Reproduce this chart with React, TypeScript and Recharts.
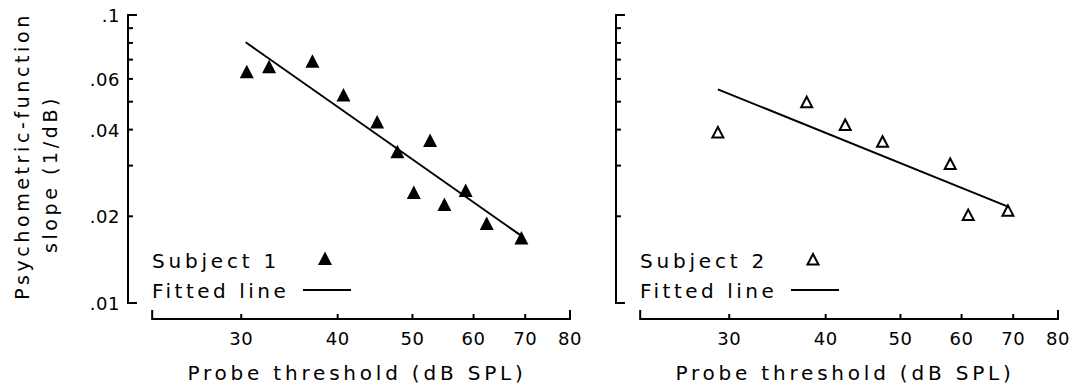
import React from 'react';
import { ScatterChart, Scatter, XAxis, YAxis, ReferenceLine, Legend } from 'recharts';

const FONT = '"DejaVu Sans", sans-serif';

// axis ranges (log scales); the plot area reaches a bit past the drawn axes
const X_MIN = 21.4;
const X_START = 23;
const X_MAX = 80;
const Y_MIN = 0.0088;
const Y_START = 0.01;
const Y_MAX = 0.1;

const xTicks = [23, 30, 40, 50, 60, 70, 80];
const xTickLabels = ['', '30', '40', '50', '60', '70', '80'];
const yTicks = [0.01, 0.02, 0.03, 0.04, 0.05, 0.06, 0.07, 0.08, 0.09, 0.1];
const yTickLabels = ['.01', '.02', '', '.04', '', '.06', '', '', '', '.1'];

// Subject 1
const s1X = [30.5, 32.6, 37.1, 40.7, 45.0, 47.8, 52.7, 50.2, 55.0, 58.6, 62.4, 69.2];
const s1Y = [0.0635, 0.0661, 0.0691, 0.0528, 0.0425, 0.0335, 0.0367, 0.0242, 0.022, 0.0246, 0.0189, 0.0168];
const fit1X = [30.4, 69.0];
const fit1Y = [0.0804, 0.0172];

// Subject 2
const s2X = [29.0, 37.8, 42.4, 47.4, 58.0, 61.2, 68.9];
const s2Y = [0.0391, 0.0498, 0.0415, 0.0363, 0.0304, 0.0202, 0.0209];
const fit2X = [29.0, 68.9];
const fit2Y = [0.0552, 0.0216];

const toPts = (xs: number[], ys: number[]) => xs.map((x, i) => ({ x, y: ys[i] }));

const textStyle = { fontFamily: FONT, fill: '#000' };

const FilledTri = ({ cx, cy }: any) => (
  <polygon points={`${cx},${cy - 7} ${cx - 7},${cy + 6.5} ${cx + 7},${cy + 6.5}`} fill="#000" />
);

const HollowTri = ({ cx, cy }: any) => (
  <polygon
    points={`${cx},${cy - 5.5} ${cx - 5.5},${cy + 5} ${cx + 5.5},${cy + 5}`}
    fill="none"
    stroke="#000"
    strokeWidth={2}
  />
);

const XTick = (props: any) => {
  const { x, y, payload } = props;
  const i = xTicks.indexOf(payload.value);
  const cap = i === 0 || i === xTicks.length - 1;
  return (
    <g>
      <line x1={x} x2={x} y1={y + 1} y2={y - (cap ? 9 : 5)} stroke="#000" strokeWidth={2} />
      <text x={x} y={y + 26} textAnchor="middle" fontSize={18} letterSpacing={0.5} style={textStyle}>
        {xTickLabels[i]}
      </text>
    </g>
  );
};

const makeYTick = (showLabels: boolean) => (props: any) => {
  const { x, y, payload } = props;
  const i = yTicks.indexOf(payload.value);
  const cap = i === 0 || i === yTicks.length - 1;
  return (
    <g>
      <line x1={x - 1} x2={x + (cap ? 9 : 5)} y1={y} y2={y} stroke="#000" strokeWidth={2} />
      {showLabels && (
        <text x={x - 8} y={y + 7} textAnchor="end" fontSize={18} letterSpacing={0.5} style={textStyle}>
          {yTickLabels[i]}
        </text>
      )}
    </g>
  );
};

const XTitle = (props: any) => {
  const { viewBox } = props;
  return (
    <text
      x={viewBox.x + viewBox.width / 2 + 8}
      y={viewBox.y + 61}
      textAnchor="middle"
      fontSize={20}
      letterSpacing={3.8}
      style={textStyle}
    >
      Probe threshold (dB SPL)
    </text>
  );
};

const YTitle = () => (
  <g>
    <text x={22} y={156} transform="rotate(-90 22 156)" textAnchor="middle" dominantBaseline="central"
      fontSize={19} letterSpacing={3.6} style={textStyle}>
      Psychometric-function
    </text>
    <text x={50} y={174} transform="rotate(-90 50 174)" textAnchor="middle" dominantBaseline="central"
      fontSize={19} letterSpacing={3.6} style={textStyle}>
      slope (1/dB)
    </text>
  </g>
);

const LegendBox = ({ name, filled }: { name: string; filled: boolean }) => (
  <svg width={230} height={70} style={{ display: 'block' }}>
    <text x={2} y={28} fontSize={20} letterSpacing={3.8} style={textStyle}>{name}</text>
    {filled ? <FilledTri cx={175} cy={18.5} /> : <HollowTri cx={175} cy={19.5} />}
    <text x={2} y={58} fontSize={20} letterSpacing={3.5} style={textStyle}>Fitted line</text>
    <line x1={153} x2={201} y1={50} y2={50} stroke="#000" strokeWidth={2} />
  </svg>
);

type PanelProps = {
  pts: { x: number; y: number }[];
  fit: { x: number; y: number }[];
  filled: boolean;
  name: string;
  showY: boolean;
};

const Panel = ({ pts, fit, filled, name, showY }: PanelProps) => (
  <ScatterChart width={593} height={390} margin={{ top: 15, right: 23, bottom: 70, left: 127 }}>
    <XAxis
      dataKey="x"
      type="number"
      scale="log"
      domain={[X_MIN, X_MAX]}
      allowDataOverflow
      ticks={xTicks}
      interval={0}
      height={1}
      tickSize={0}
      tickMargin={0}
      axisLine={false}
      tickLine={false}
      tick={XTick}
      label={{ content: XTitle }}
    />
    <YAxis
      dataKey="y"
      type="number"
      scale="log"
      domain={[Y_MIN, Y_MAX]}
      allowDataOverflow
      ticks={yTicks}
      interval={0}
      width={1}
      tickSize={0}
      tickMargin={0}
      axisLine={false}
      tickLine={false}
      tick={makeYTick(showY)}
      label={showY ? { content: YTitle } : undefined}
    />
    <ReferenceLine
      segment={[{ x: X_START, y: Y_MIN }, { x: X_MAX, y: Y_MIN }]}
      stroke="#000"
      strokeWidth={2}
      ifOverflow="visible"
    />
    <ReferenceLine
      segment={[{ x: X_MIN, y: Y_START }, { x: X_MIN, y: Y_MAX }]}
      stroke="#000"
      strokeWidth={2}
      ifOverflow="visible"
    />
    <Scatter
      data={fit}
      line={{ stroke: '#000', strokeWidth: 2 }}
      shape={() => <g />}
      legendType="none"
      isAnimationActive={false}
    />
    <Scatter
      data={pts}
      shape={(p: any) => (filled ? <FilledTri cx={p.cx} cy={p.cy} /> : <HollowTri cx={p.cx} cy={p.cy} />)}
      isAnimationActive={false}
    />
    <Legend
      layout="vertical"
      align="center"
      verticalAlign="middle"
      wrapperStyle={{ left: 150, top: 240, width: 230, height: 70 }}
      content={() => <LegendBox name={name} filled={filled} />}
    />
  </ScatterChart>
);

export default function App() {
  return (
    <div style={{ position: 'absolute', left: 0, top: 0, width: 1081, height: 390, background: '#fff', overflow: 'hidden' }}>
      <div style={{ position: 'absolute', left: 0, top: 0 }}>
        <Panel pts={toPts(s1X, s1Y)} fit={toPts(fit1X, fit1Y)} filled name="Subject 1" showY />
      </div>
      <div style={{ position: 'absolute', left: 488, top: 0 }}>
        <Panel pts={toPts(s2X, s2Y)} fit={toPts(fit2X, fit2Y)} filled={false} name="Subject 2" showY={false} />
      </div>
    </div>
  );
}
